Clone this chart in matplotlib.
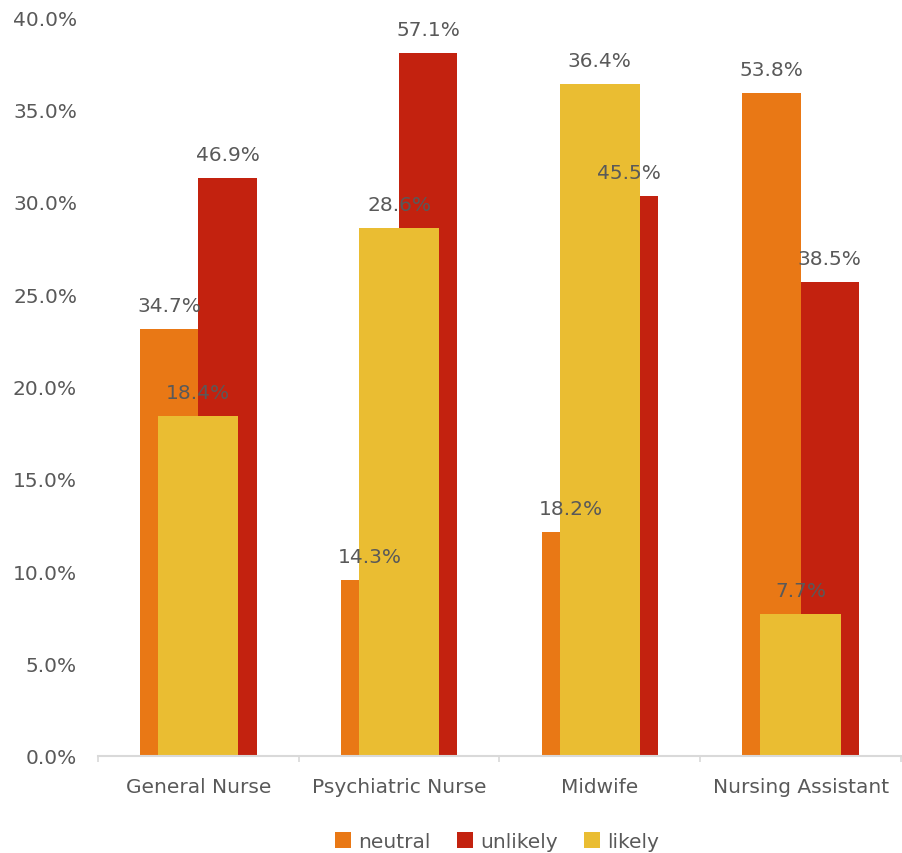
import matplotlib
matplotlib.use("Agg")
import matplotlib.pyplot as plt
from matplotlib.ticker import PercentFormatter, FixedLocator

plt.rcParams['font.family'] = ['DejaVu Sans']

roles = ["General Nurse", "Psychiatric Nurse", "Midwife", "Nursing Assistant"]
neutral = [34.7, 14.3, 18.2, 53.8]
unlikely = [46.9, 57.1, 45.5, 38.5]
likely = [18.4, 28.6, 36.4, 7.7]

c_neutral = "#E97815"
c_unlikely = "#C3220F"
c_likely = "#EABD32"
txt = "#595959"
axis_grey = "#D9D9D9"
fs = 14.5

fig = plt.figure(figsize=(9.02, 8.54), dpi=100)
ax = fig.add_axes([0.1086, 0.1136, 0.8903, 0.8653])
ax2 = ax.twinx()

x = list(range(len(roles)))
w_side = 0.29
w_mid = 0.40

# neutral / unlikely on the secondary (hidden, 0-60%) scale
b_neu = ax2.bar([i - w_side / 2 for i in x], neutral, w_side, color=c_neutral, label="neutral")
b_unl = ax2.bar([i + w_side / 2 for i in x], unlikely, w_side, color=c_unlikely, label="unlikely")
ax2.set_ylim(0, 60)
ax2.set_yticks([])
for s in ax2.spines.values():
    s.set_visible(False)

# likely on the primary scale, drawn on top
ax.set_zorder(ax2.get_zorder() + 1)
ax.patch.set_visible(False)
b_lik = ax.bar(x, likely, w_mid, color=c_likely, label="likely")
ax.set_ylim(0, 40)
ax.set_xlim(-0.5, 3.5)
ax.yaxis.set_major_locator(FixedLocator([i * 5 for i in range(9)]))
ax.yaxis.set_major_formatter(PercentFormatter(decimals=1))
ax.tick_params(axis="y", length=0, pad=15, labelsize=fs, labelcolor=txt)

ax.set_xticks(x)
ax.set_xticklabels(roles)
ax.set_xticks([i - 0.5 for i in range(len(roles) + 1)], minor=True)
ax.tick_params(axis="x", which="major", length=0, pad=15, labelsize=fs, labelcolor=txt)
ax.tick_params(axis="x", which="minor", length=4.5, width=1.2, color=axis_grey)
for k in ["top", "right", "left"]:
    ax.spines[k].set_visible(False)
ax.spines["bottom"].set_color(axis_grey)
ax.spines["bottom"].set_linewidth(1.5)

# value labels, all placed in the top axes so they sit above every bar
for bars, vals, tr in [(b_neu, neutral, ax2.transData),
                       (b_unl, unlikely, ax2.transData),
                       (b_lik, likely, ax.transData)]:
    for b, v in zip(bars, vals):
        ax.annotate(f"{v:.1f}%", (b.get_x() + b.get_width() / 2, v), xycoords=tr,
                    xytext=(0, 10), textcoords="offset points",
                    ha="center", va="bottom", fontsize=fs, color=txt)

handles = [b_neu, b_unl, b_lik]
fig.legend(handles, [h.get_label() for h in handles], loc="lower center",
           bbox_to_anchor=(0.551, -0.012), ncol=3, frameon=False, fontsize=fs,
           labelcolor=txt, handlelength=0.8, handleheight=0.8,
           handletextpad=0.35, columnspacing=1.3, borderaxespad=0.2)

fig.savefig("out.png", dpi=100)
